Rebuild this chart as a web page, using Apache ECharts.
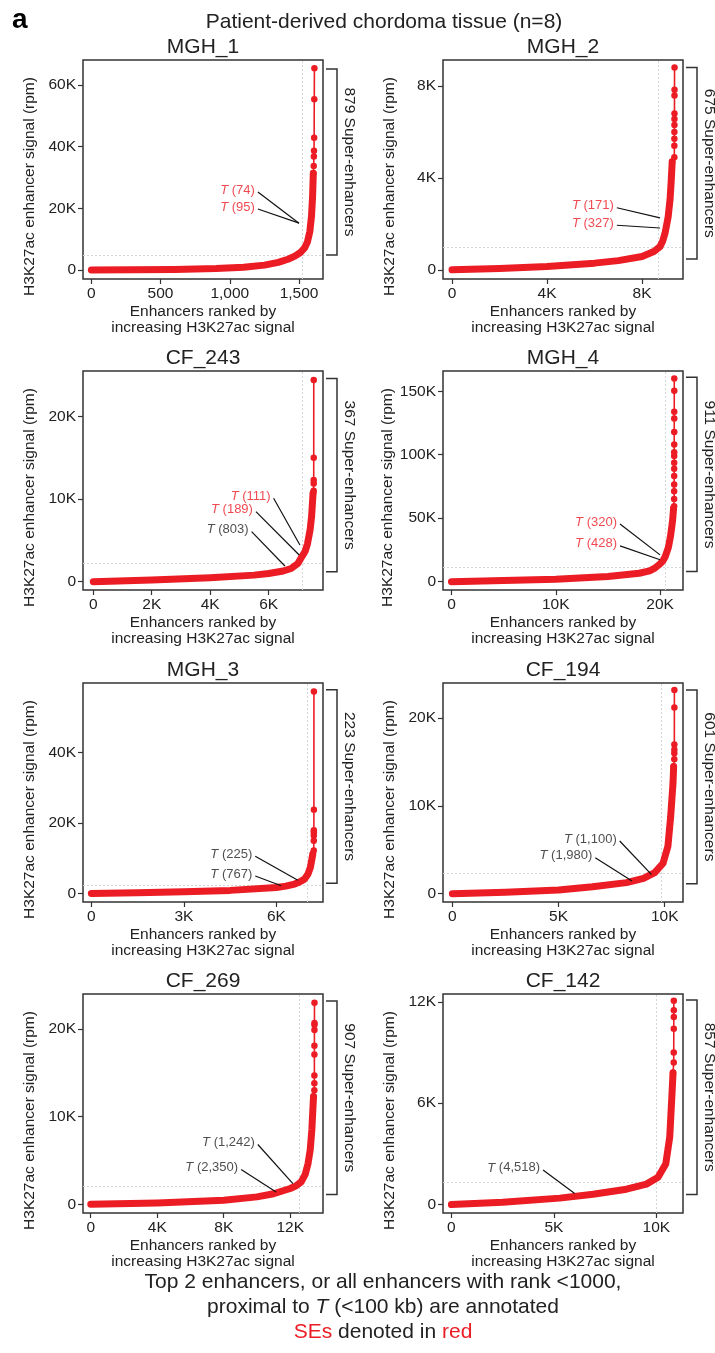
<!DOCTYPE html>
<html>
<head>
<meta charset="utf-8">
<script src="https://cdn.jsdelivr.net/npm/echarts@6/dist/echarts.min.js"></script>
<style>
  html, body { margin: 0; padding: 0; background: #fff; }
  #main { width: 715px; height: 1353px; }
</style>
</head>
<body>
<div id="main"></div>
<script>
// sample names and number of super-enhancers per sample
const sampleNames = ['MGH_1', 'MGH_2', 'CF_243', 'MGH_4', 'MGH_3', 'CF_194', 'CF_269', 'CF_142'];
const seCounts = [879, 675, 367, 911, 223, 601, 907, 857];

// ranked enhancer curves [rank, signal]: dense band + separated top dots
const mgh1Band = [[0, 0], [300, 80], [600, 220], [900, 480], [1100, 900], [1250, 1600], [1350, 2500], [1420, 3500], [1470, 4500], [1510, 5700], [1540, 7200], [1560, 9000], [1578, 12500], [1590, 17500], [1598, 24000], [1603, 31400]];
const mgh1Top = [[1603, 31400], [1606, 33700], [1607, 36800], [1608, 38700], [1609, 42900], [1610, 55400], [1611, 65400]];
const mgh2Band = [[0, 0], [2000, 60], [4000, 140], [6000, 290], [7000, 400], [8000, 580], [8500, 800], [8750, 1000], [8870, 1250], [8970, 1600], [9100, 2300], [9180, 3060], [9230, 3900], [9270, 4700]];
const mgh2Top = [[9270, 4700], [9360, 4900], [9361, 5400], [9362, 5700], [9363, 6000], [9364, 6300], [9365, 6560], [9366, 6800], [9367, 7580], [9368, 7840], [9369, 8800]];
const cf243Band = [[0, 0], [2000, 200], [4000, 480], [5500, 800], [6000, 1000], [6500, 1300], [6770, 1600], [7000, 2200], [7100, 2800], [7250, 3700], [7330, 4600], [7420, 6300], [7470, 7900], [7520, 10700]];
const cf243Top = [[7520, 10700], [7540, 11000], [7541, 11900], [7542, 12300], [7543, 15000], [7544, 24400]];
const mgh4Band = [[0, 0], [5000, 800], [10000, 1800], [15000, 4000], [18000, 6600], [19000, 8500], [19500, 10600], [20000, 14000], [20250, 16000], [20500, 19800], [20800, 27000], [21000, 35600], [21200, 48000], [21300, 58000]];
const mgh4Top = [[21300, 58000], [21350, 59400], [21351, 65200], [21352, 71300], [21353, 76600], [21354, 83200], [21355, 89000], [21356, 93700], [21357, 99000], [21358, 102000], [21359, 108000], [21360, 118000], [21361, 128600], [21362, 133800], [21363, 150500], [21364, 160000]];
const mgh3Band = [[0, 0], [1500, 250], [3000, 500], [4500, 900], [6000, 1700], [6300, 2100], [6590, 2700], [6750, 3300], [6910, 4100], [7020, 5500], [7100, 7400], [7180, 11200]];
const mgh3Top = [[7180, 11200], [7210, 12200], [7211, 15000], [7212, 16500], [7213, 17400], [7214, 18000], [7215, 23800], [7216, 57400]];
const cf194Band = [[0, 0], [2500, 150], [5000, 420], [6600, 780], [8200, 1260], [9000, 1750], [9530, 2400], [9920, 3460], [10150, 5400], [10280, 8800], [10390, 12600], [10420, 14500]];
const cf194Top = [[10420, 14500], [10450, 15300], [10451, 16000], [10452, 16400], [10453, 17000], [10454, 21200], [10455, 23200]];
const cf269Band = [[0, 0], [4000, 150], [8000, 460], [10000, 840], [11000, 1200], [12000, 1800], [12350, 2100], [12660, 2550], [12900, 3400], [13070, 4650], [13200, 6200], [13300, 8500], [13400, 12300]];
const cf269Top = [[13400, 12300], [13450, 13000], [13451, 13800], [13452, 14700], [13453, 17100], [13454, 18100], [13455, 19900], [13456, 20500], [13457, 20700], [13458, 23000]];
const cf142Band = [[0, 0], [2500, 130], [5285, 380], [6910, 610], [8540, 910], [9516, 1210], [10082, 1610], [10458, 2400], [10653, 4000], [10765, 6600], [10814, 7800]];
const cf142Top = [[10814, 7800], [10848, 8400], [10849, 9000], [10850, 10400], [10851, 11100], [10852, 11500], [10853, 12060]];

// axis ranges and ticks
const xRanges = [[-60, 1673], [-380, 9725], [-352, 7860], [-810, 22200], [-270, 7510], [-440, 10860], [-465, 13970], [-410, 11300]];
const xTicks = [[0, 500, 1000, 1500], [0, 4000, 8000], [0, 2000, 4000, 6000], [0, 10000, 20000], [0, 3000, 6000], [0, 5000, 10000], [0, 4000, 8000, 12000], [0, 5000, 10000]];
const yRanges = [[-2900, 68100], [-400, 9130], [-1000, 25500], [-6600, 166000], [-2400, 59800], [-950, 24000], [-1000, 24000], [-500, 12460]];
const yTicks = [[0, 20000, 40000, 60000], [0, 4000, 8000], [0, 10000, 20000], [0, 50000, 100000, 150000], [0, 20000, 40000], [0, 10000, 20000], [0, 10000, 20000], [0, 6000, 12000]];

// super-enhancer cutoff [rank, signal] and bracket span [low, high] signal
const cutoffs = [[1522, 4900], [8670, 990], [7160, 2200], [20500, 11400], [7000, 2400], [9840, 2360], [12560, 2060], [10000, 1310]];
const brackets = [[4900, 65200], [470, 8800], [1200, 24600], [7900, 161000], [2900, 57900], [1140, 23200], [1100, 23200], [600, 12100]];

// T locus annotations: label, is SE, leader line from -> to
const notes = [
  [{ label: '74', se: true, from: [1203, 25300], to: [1500, 15200] }, { label: '95', se: true, from: [1203, 19800], to: [1500, 15200] }],
  [{ label: '171', se: true, from: [6940, 2700], to: [8757, 2260] }, { label: '327', se: true, from: [6940, 1940], to: [8757, 1820] }],
  [{ label: '111', se: true, from: [6170, 10100], to: [7070, 4440] }, { label: '189', se: true, from: [5565, 8480], to: [7045, 3230] }, { label: '803', se: false, from: [5417, 6060], to: [6556, 1900] }],
  [{ label: '320', se: true, from: [16160, 45400], to: [20000, 21100] }, { label: '428', se: true, from: [16160, 28200], to: [20000, 17200] }],
  [{ label: '225', se: false, from: [5314, 10600], to: [6696, 3800] }, { label: '767', se: false, from: [5314, 5000], to: [6156, 2200] }],
  [{ label: '1,100', se: false, from: [7880, 6000], to: [9370, 2200] }, { label: '1,980', se: false, from: [6730, 4100], to: [8460, 1450] }],
  [{ label: '1,242', se: false, from: [10050, 6820], to: [12160, 2360] }, { label: '2,350', se: false, from: [9045, 3960], to: [11150, 1410] }],
  [{ label: '4,518', se: false, from: [4471, 2050], to: [6016, 660] }]
];

const bands = [mgh1Band, mgh2Band, cf243Band, mgh4Band, mgh3Band, cf194Band, cf269Band, cf142Band];
const tops = [mgh1Top, mgh2Top, cf243Top, mgh4Top, mgh3Top, cf194Top, cf269Top, cf142Top];

const RED = '#ec1c24';
const INK = '#222';
const FONT = '"Liberation Sans", Arial, sans-serif';
const gridLeft = [83, 443];
const gridTop = [60, 371, 683, 994];
const gridW = 240, gridH = 219;

const kFmt = v => v === 0 ? '0' : (v / 1000) + 'K';
const commaFmt = v => v.toLocaleString('en-US');

let chart = echarts.init(document.getElementById('main'), null, { renderer: 'canvas' });

const option = {
    animation: false,
    textStyle: { fontFamily: FONT },
    grid: [], xAxis: [], yAxis: [], series: []
};

sampleNames.forEach((name, i) => {
    const left = gridLeft[i % 2], top = gridTop[Math.floor(i / 2)];
    option.grid.push({ left: left, top: top, width: gridW, height: gridH, show: true, borderColor: '#333', borderWidth: 1.5 });
    option.xAxis.push({
        type: 'value', gridIndex: i, min: xRanges[i][0], max: xRanges[i][1],
        name: 'Enhancers ranked by\nincreasing H3K27ac signal', nameLocation: 'middle', nameGap: 25,
        nameTextStyle: { fontSize: 15.5, color: INK, lineHeight: 16 },
        axisLine: { show: false, onZero: false }, splitLine: { show: false },
        axisTick: { show: true, length: 5, lineStyle: { color: '#333', width: 1.2 }, customValues: xTicks[i] },
        axisLabel: { fontSize: 15.5, color: INK, margin: 7, customValues: xTicks[i], formatter: i === 0 ? commaFmt : kFmt }
    });
    option.yAxis.push({
        type: 'value', gridIndex: i, min: yRanges[i][0], max: yRanges[i][1],
        name: 'H3K27ac enhancer signal (rpm)', nameLocation: 'middle', nameGap: 45,
        nameTextStyle: { fontSize: 15.5, color: INK, padding: [0, 34, 0, 0] },
        axisLine: { show: false, onZero: false }, splitLine: { show: false },
        axisTick: { show: true, length: 5, lineStyle: { color: '#333', width: 1.2 }, customValues: yTicks[i] },
        axisLabel: { fontSize: 15.5, color: INK, margin: 7, customValues: yTicks[i], formatter: kFmt }
    });

    // thick band of overlapping points
    option.series.push({
        type: 'line', xAxisIndex: i, yAxisIndex: i, data: bands[i], showSymbol: false,
        smooth: false, silent: true, z: 3,
        lineStyle: { color: RED, width: 7, cap: 'round', join: 'round' },
        markLine: {
            silent: true, symbol: 'none', z: 1, label: { show: false },
            lineStyle: { color: '#d6d6d6', type: [2, 2], width: 1 },
            data: [{ xAxis: cutoffs[i][0] }, { yAxis: cutoffs[i][1] }]
        }
    });
    // top-ranked enhancers as separate dots
    option.series.push({
        type: 'line', xAxisIndex: i, yAxisIndex: i, data: tops[i], symbol: 'circle', symbolSize: 6.5,
        showSymbol: true, silent: true, z: 4,
        itemStyle: { color: RED }, lineStyle: { color: RED, width: 1.6 }
    });
    // leader lines
    option.series.push({
        type: 'lines', coordinateSystem: 'cartesian2d', xAxisIndex: i, yAxisIndex: i, silent: true, z: 5,
        data: notes[i].map(n => ({ coords: [n.from, n.to] })),
        lineStyle: { color: '#111', width: 1.2, opacity: 1, curveness: 0 }
    });
    // annotation labels
    option.series.push({
        type: 'scatter', xAxisIndex: i, yAxisIndex: i, symbolSize: 0, silent: true, z: 6,
        data: notes[i].map(n => {
            const c = n.se ? RED : INK;
            return {
                value: n.from,
                label: {
                    show: true, position: 'left', distance: 3, offset: [0, -2],
                    formatter: '{t|T} (' + n.label + ')', color: c, fontSize: 13,
                    rich: { t: { fontStyle: 'italic', color: c, fontSize: 13 } }
                }
            };
        })
    });
});

chart.setOption(option);

// titles, notes and SE brackets
const graphics = [
    { type: 'text', x: 12, y: 20, style: { text: 'a', font: 'bold 28px ' + FONT, fill: '#000', textVerticalAlign: 'middle' } },
    { type: 'text', x: 384, y: 22, style: { text: 'Patient-derived chordoma tissue (n=8)', font: '21px ' + FONT, fill: INK, textAlign: 'center', textVerticalAlign: 'middle' } },
    { type: 'text', x: 383, y: 1282, style: { text: 'Top 2 enhancers, or all enhancers with rank <1000,', font: '21px ' + FONT, fill: INK, textAlign: 'center', textVerticalAlign: 'middle' } },
    { type: 'text', x: 383, y: 1307, style: { text: 'proximal to {i|T} (<100 kb) are annotated', font: '21px ' + FONT, fill: INK, textAlign: 'center', textVerticalAlign: 'middle', rich: { i: { fontStyle: 'italic', fontSize: 21, fill: INK } } } },
    { type: 'text', x: 383, y: 1332, style: { text: '{r|SEs} denoted in {r|red}', font: '21px ' + FONT, fill: INK, textAlign: 'center', textVerticalAlign: 'middle', rich: { r: { fill: RED, color: RED, fontSize: 21 } } } }
];

sampleNames.forEach((name, i) => {
    const left = gridLeft[i % 2], top = gridTop[Math.floor(i / 2)];
    const xr = left + gridW;
    graphics.push({ type: 'text', x: left + gridW / 2, y: top - 12.5, style: { text: name, font: '21px ' + FONT, fill: INK, textAlign: 'center', textVerticalAlign: 'middle' } });
    const yLo = chart.convertToPixel({ gridIndex: i }, [0, brackets[i][0]])[1];
    const yHi = chart.convertToPixel({ gridIndex: i }, [0, brackets[i][1]])[1];
    graphics.push({
        type: 'polyline', shape: { points: [[xr + 3, yHi], [xr + 14, yHi], [xr + 14, yLo], [xr + 3, yLo]] },
        style: { stroke: '#333', lineWidth: 1.5, fill: null }
    });
    graphics.push({
        type: 'text', x: xr + 26, y: (yHi + yLo) / 2, rotation: -Math.PI / 2,
        style: { text: seCounts[i] + ' Super-enhancers', font: '15.5px ' + FONT, fill: INK, textAlign: 'center', textVerticalAlign: 'middle' }
    });
});

chart.setOption({ graphic: graphics });
</script>
</body>
</html>
